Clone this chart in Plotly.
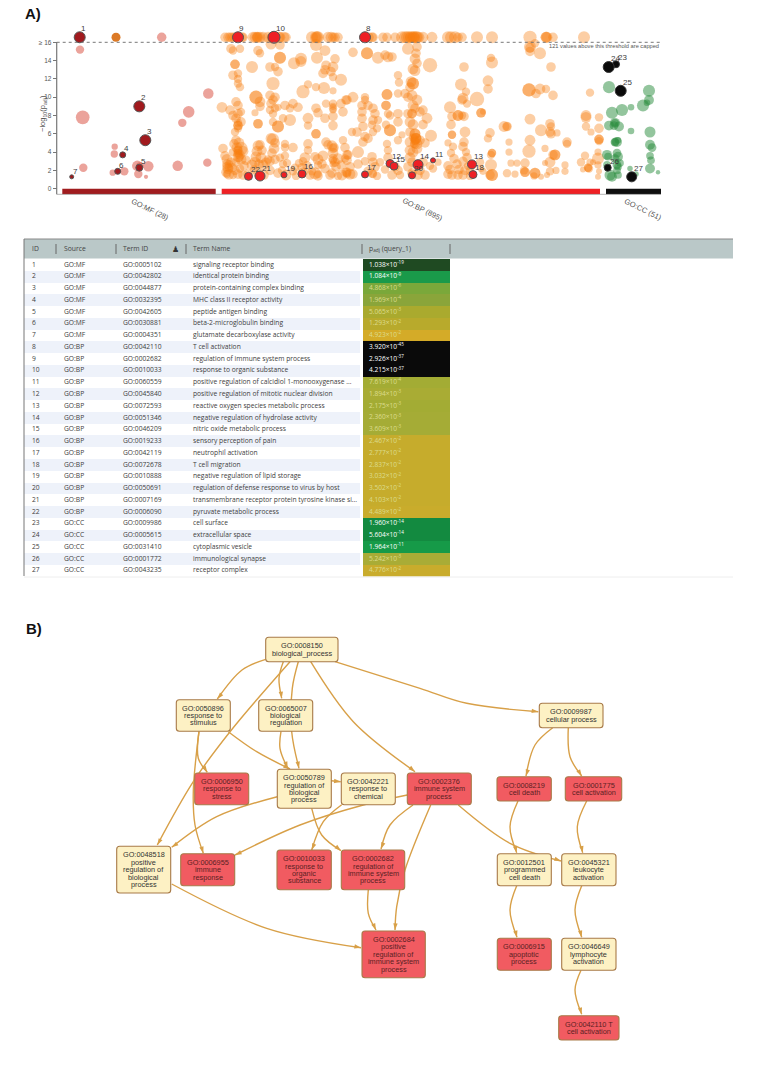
import plotly.graph_objects as go

CAP = 16.55

# ---------- Manhattan data: (term position, -log10 padj, term size class) ----------
mf_terms = [
    (161.7, CAP, 9), (80, 15.2, 8), (82.7, 7.8, 13), (208.3, 10.4, 10), (188.7, 8.4, 11),
    (182.3, 7.2, 8), (114.7, 4.6, 6), (114.3, 3.8, 7), (83.3, 2.3, 8), (112.7, 1.75, 6), (124.3, 1.9, 8),
    (137.3, 2.5, 10), (148.3, 2.45, 10), (177.7, 2.5, 10), (207.3, 2.85, 8), (138.3, 1.6, 8), (146, 1.3, 4),
    (140, 2.5, 7),
]
mf_stacked = [(116, CAP, 9)]
bp_terms = [
    # capped row
    (225, CAP, 8), (228, CAP, 8), (230, CAP, 8), (232, CAP, 8), (234, CAP, 8), (236, CAP, 8), (242, CAP, 8), (243, CAP, 8),
    (253, CAP, 9), (255, CAP, 9), (257, CAP, 9), (258, CAP, 9), (260, CAP, 9), (263, CAP, 9), (268, CAP, 9), (272, CAP, 9),
    (279, CAP, 9), (280, CAP, 9), (284, CAP, 9), (286, CAP, 8), (312, CAP, 10), (316, CAP, 10), (317, CAP, 10), (318, CAP, 10),
    (328, CAP, 9), (331, CAP, 9), (333, CAP, 8), (335, CAP, 8), (338, CAP, 8), (369, CAP, 8), (372, CAP, 8), (373, CAP, 8),
    (383, CAP, 8), (387, CAP, 8), (395, CAP, 8), (402, CAP, 10), (405, CAP, 10), (407, CAP, 10), (409, CAP, 10), (411, CAP, 10),
    (413, CAP, 10), (414, CAP, 10), (416, CAP, 10), (417, CAP, 10), (419, CAP, 9), (423, CAP, 9), (432, CAP, 9), (448, CAP, 10),
    (451, CAP, 10), (455, CAP, 10), (458, CAP, 8), (462, CAP, 8), (477, CAP, 10), (492, CAP, 10), (530, CAP, 11), (546, CAP, 9),
    (546, CAP, 9), (547, CAP, 9), (553, CAP, 8), (584, CAP, 10),
    # 11 to 16
    (231, 15.3, 8), (233, 15.1, 7), (240, 15.3, 7), (258, 15.1, 8), (260, 14.8, 7), (271, 15.8, 9), (280, 15.7, 8), (316, 15.7, 10),
    (325, 15.1, 9), (235, 13.6, 8), (235, 13.6, 8), (280, 14.3, 10), (280, 14.3, 10), (270, 13.3, 8), (252, 13.3, 10), (275, 13.3, 7),
    (278, 12.8, 8), (301, 14.2, 10), (294, 13.7, 10), (301, 13.9, 9), (317, 14.3, 10), (335, 14.2, 8), (326, 13.5, 8), (333, 13.3, 9),
    (325, 13.0, 8), (323, 12.6, 8), (331, 12.8, 8), (333, 12.2, 7), (341, 11.9, 10), (233, 12.4, 8), (238, 12.6, 7), (238, 12.0, 7),
    (238, 11.5, 7), (240, 11.1, 7), (273, 11.5, 11), (308, 11.4, 7), (316, 11.1, 7), (324, 11.0, 10), (333, 10.7, 6), (303, 10.6, 11),
    (353, 14.9, 8), (367, 14.8, 10), (367, 14.8, 10), (378, 14.3, 10), (385, 14.6, 8), (388, 14.4, 9), (392, 14.4, 8), (408, 15.3, 10),
    (417, 15.5, 8), (416, 14.8, 8), (415, 14.2, 9), (417, 13.7, 8), (413, 13.1, 9), (415, 12.9, 9), (430, 13.5, 12), (464, 13.3, 8),
    (398, 12.4, 7), (399, 11.6, 7), (411, 11.7, 9), (413, 11.5, 10), (413, 11.5, 10), (410, 11.1, 8), (461, 11.4, 10), (466, 10.6, 7),
    (463, 9.9, 9), (462, 9.7, 8), (387, 10.3, 9), (387, 10.3, 9), (398, 10.4, 7), (405, 10.4, 8), (417, 9.7, 9), (413, 9.1, 9),
    (412, 10.2, 9), (408, 10.0, 8), (491, 14.3, 7), (492, 13.8, 10), (551, 13.3, 8), (530, 15.5, 10), (530, 15.4, 8), (540, 14.8, 10),
    (535, 15.9, 7), (530, 15.0, 8),
    # 6 to 11
    (222, 8.9, 9), (230, 8.6, 8), (236, 9.5, 8), (238, 9.1, 8), (241, 8.4, 7), (233, 8.0, 8), (236, 7.7, 8), (238, 8.2, 8),
    (241, 7.3, 8), (238, 6.9, 8), (238, 6.9, 8), (235, 6.2, 7), (256, 10.0, 11), (256, 10.0, 11), (260, 9.5, 9), (260, 9.0, 8),
    (255, 8.3, 6), (258, 7.1, 8), (258, 7.1, 8), (270, 10.2, 8), (275, 10.0, 8), (271, 9.3, 8), (273, 9.7, 8), (270, 8.6, 7),
    (275, 8.8, 7), (273, 8.2, 7), (285, 9.1, 8), (278, 8.9, 6), (290, 8.8, 7), (298, 8.9, 8), (293, 9.3, 8), (278, 6.8, 10),
    (278, 6.8, 10), (273, 7.3, 7), (283, 7.7, 7), (290, 7.5, 10), (308, 7.7, 9), (316, 6.0, 8), (316, 6.0, 8), (308, 6.9, 7),
    (316, 8.8, 8), (318, 8.3, 8), (325, 7.7, 8), (333, 8.8, 7), (333, 9.3, 7), (333, 7.9, 8), (333, 6.9, 8), (341, 9.3, 8),
    (346, 9.7, 8), (343, 8.4, 8), (326, 9.3, 7), (347, 9.7, 8), (353, 10.0, 9), (365, 10.0, 7), (365, 9.7, 7), (362, 9.1, 8),
    (368, 9.1, 8), (386, 9.1, 8), (386, 9.1, 8), (450, 8.9, 10), (467, 9.3, 7), (462, 8.0, 7), (458, 8.0, 9), (458, 8.0, 9),
    (464, 7.9, 8), (452, 7.9, 8), (451, 7.0, 8), (465, 6.2, 9), (452, 5.9, 7), (452, 5.9, 7), (352, 6.2, 7), (357, 6.2, 8),
    (362, 8.4, 8), (362, 7.7, 8), (363, 6.8, 8), (373, 8.8, 8), (375, 8.2, 8), (373, 7.5, 8), (372, 7.0, 7), (378, 7.5, 7),
    (377, 6.6, 7), (373, 6.2, 7), (388, 8.2, 7), (390, 8.0, 7), (390, 6.4, 10), (390, 6.4, 10), (398, 8.2, 8), (398, 7.3, 8),
    (386, 7.0, 7), (402, 5.9, 6), (408, 8.2, 8), (412, 8.2, 8), (412, 8.2, 8), (415, 8.8, 8), (420, 8.4, 8), (410, 7.3, 9),
    (413, 7.0, 9), (415, 6.0, 9), (415, 6.0, 9), (416, 5.5, 9), (416, 5.5, 9), (416, 5.5, 9), (410, 6.2, 8), (427, 7.7, 9),
    (423, 8.6, 8), (423, 7.0, 8), (431, 5.8, 10), (477, 9.8, 12), (488, 11.8, 9), (488, 10.9, 8), (481, 8.3, 8), (481, 8.3, 8),
    (483, 8.4, 5), (529, 10.8, 11), (529, 10.8, 11), (536, 10.4, 8), (540, 10.9, 9), (546, 10.9, 7), (553, 10.2, 8), (590, 10.5, 7),
    (530, 7.6, 9), (550, 7.1, 8), (504, 6.8, 9), (507, 6.8, 8), (507, 6.8, 7), (490, 6.1, 8), (541, 6.4, 10), (550, 6.2, 8),
    (551, 6.0, 8), (557, 6.1, 6), (551, 6.8, 7), (586, 8.0, 9), (586, 7.8, 9), (599, 7.8, 7), (586, 6.8, 7), (591, 6.2, 6),
    (599, 6.6, 8),
    # 0 to 6
    (223, 4.4, 8), (225, 3.6, 8), (227, 3.2, 9), (227, 2.7, 8), (228, 2.2, 9), (229, 1.6, 9), (226, 1.8, 8), (231, 2.9, 8),
    (232, 2.3, 8), (233, 4.0, 7), (234, 4.9, 8), (236, 5.3, 8), (237, 4.5, 9), (238, 4.2, 8), (240, 3.7, 8), (241, 3.2, 9),
    (239, 5.0, 9), (241, 4.4, 11), (243, 4.1, 9), (238, 3.5, 9), (238, 1.6, 8), (236, 2.9, 7), (244, 2.5, 8), (246, 3.1, 8),
    (235, 2.0, 8), (240, 2.2, 7), (243, 1.5, 8), (233, 1.5, 7), (248, 1.6, 8), (238, 3.8, 8), (239, 3.4, 8), (227, 2.4, 8),
    (254, 2.1, 7), (256, 3.5, 9), (258, 4.7, 9), (257, 4.1, 9), (260, 4.8, 8), (262, 4.2, 8), (261, 3.4, 9), (263, 2.6, 9),
    (259, 2.7, 8), (264, 1.5, 8), (258, 1.7, 8), (252, 2.6, 9), (255, 2.9, 9), (266, 2.9, 8), (268, 3.2, 7), (271, 5.5, 9),
    (273, 5.4, 10), (275, 5.0, 8), (274, 4.4, 9), (272, 3.9, 8), (270, 3.0, 8), (270, 2.0, 8), (275, 3.2, 8), (280, 3.4, 7),
    (278, 1.7, 8), (283, 2.7, 7), (282, 2.0, 7), (286, 1.5, 9), (287, 2.8, 7), (285, 3.6, 7), (285, 4.5, 7), (285, 4.9, 7),
    (293, 1.9, 7), (295, 2.3, 7), (302, 2.3, 8), (293, 4.5, 8), (299, 2.8, 7), (303, 3.0, 7), (308, 4.9, 8), (308, 4.2, 7),
    (305, 3.4, 9), (307, 2.5, 8), (312, 1.9, 7), (303, 1.8, 8), (296, 1.4, 7), (310, 1.5, 8), (315, 1.7, 10), (318, 1.4, 8),
    (315, 3.5, 8), (318, 3.2, 9), (318, 2.6, 7), (322, 2.7, 8), (325, 2.2, 8), (328, 4.8, 8), (332, 4.7, 9), (334, 4.5, 8),
    (333, 3.9, 9), (333, 4.4, 8), (333, 3.3, 8), (335, 2.9, 8), (336, 2.4, 8), (332, 1.7, 8), (330, 1.5, 8), (338, 3.3, 9),
    (341, 2.6, 8), (345, 4.5, 8), (347, 3.7, 8), (342, 1.5, 9), (346, 1.8, 8), (350, 1.6, 9), (338, 1.4, 7), (323, 3.6, 9),
    (343, 5.3, 7), (326, 5.1, 8), (348, 3.7, 8), (345, 3.3, 7), (358, 4.0, 10), (347, 3.1, 8), (350, 2.4, 8), (347, 1.8, 8),
    (353, 1.6, 8), (358, 2.7, 8), (365, 3.0, 7), (365, 5.7, 8), (363, 5.1, 8), (368, 5.5, 8), (372, 3.5, 8), (373, 2.9, 8),
    (375, 2.4, 8), (372, 1.7, 8), (377, 1.4, 7), (368, 1.9, 8), (380, 2.9, 7), (385, 2.1, 7), (388, 3.4, 8), (387, 4.9, 7),
    (388, 4.2, 7), (398, 5.3, 7), (395, 2.4, 8), (392, 1.5, 8), (398, 2.0, 8), (400, 1.5, 7), (410, 3.4, 9), (412, 2.9, 8),
    (408, 2.4, 8), (412, 1.7, 8), (418, 1.5, 8), (420, 2.0, 8), (423, 2.9, 8), (425, 1.5, 8), (430, 2.5, 7), (433, 2.2, 7),
    (438, 2.9, 6), (417, 4.9, 9), (410, 5.1, 9), (420, 5.3, 8), (425, 5.0, 8), (410, 4.2, 9), (413, 4.0, 9), (417, 4.4, 9),
    (415, 4.9, 8), (415, 5.3, 8), (448, 2.5, 8), (450, 2.1, 8), (448, 1.6, 8), (452, 1.5, 8), (454, 3.3, 8), (457, 2.7, 8),
    (459, 2.1, 8), (458, 1.5, 8), (465, 2.0, 8), (463, 1.5, 8), (467, 3.4, 8), (470, 2.0, 7), (463, 3.0, 8), (470, 1.4, 7),
    (466, 4.0, 7), (468, 2.5, 7), (464, 5.1, 8), (448, 5.0, 6), (453, 4.6, 7), (463, 4.6, 8), (451, 3.9, 7),
    (491, 3.7, 7), (492, 3.9, 7), (492, 3.9, 7), (491, 2.6, 10), (492, 1.5, 10), (492, 1.5, 10), (490, 1.5, 8), (483, 1.9, 6),
    (481, 2.2, 6), (480, 2.9, 7), (488, 5.5, 7), (507, 1.7, 7), (515, 1.6, 6), (511, 2.8, 6), (517, 2.8, 6), (525, 2.8, 8),
    (525, 1.8, 8), (525, 1.8, 8), (524, 2.0, 7), (535, 1.7, 9), (535, 1.7, 9), (534, 1.4, 6), (541, 1.3, 5), (547, 1.5, 5),
    (550, 1.9, 7), (545, 2.8, 5), (550, 2.9, 9), (555, 3.7, 9), (555, 3.7, 9), (553, 3.7, 8), (556, 2.0, 6), (565, 2.6, 6),
    (565, 1.9, 6), (530, 5.3, 9), (509, 5.1, 6), (509, 4.0, 6), (529, 4.1, 11), (545, 4.4, 6), (567, 5.1, 8), (567, 4.9, 7),
    (581, 2.9, 7), (585, 3.6, 7), (588, 2.3, 7), (588, 2.3, 7), (589, 2.2, 7), (583, 2.1, 5), (590, 2.9, 6), (598, 3.3, 10),
    (598, 4.0, 6), (598, 2.6, 6), (599, 1.9, 5), (598, 1.3, 5), (593, 2.9, 5), (599, 5.4, 8), (599, 5.4, 8), (599, 5.2, 7),
    # darkest stacks
    (410, CAP, 8), (413, CAP, 8), (415, CAP, 8), (257, CAP, 8), (272, CAP, 8), (316, CAP, 8), (333, 9.0, 6), (333, 8.6, 6),
    (238, 7.2, 7), (238, 6.6, 7), (238, 4.2, 7), (238, 3.9, 7), (229, 2.7, 7), (229, 2.3, 7), (413, 5.6, 7), (415, 5.2, 7),
    (414, 4.9, 7), (333, 3.1, 7), (333, 2.7, 6), (227, 1.6, 7), (318, 1.6, 7), (347, 1.6, 7), (373, 1.6, 7), (412, 1.6, 7),
]
cc_terms = [
    (609, 11.1, 11), (612, 8.3, 11), (622, 8.6, 11), (631, 8.9, 6), (649, 10.7, 11), (649, 9.7, 9), (643, 9.1, 11), (647, 9.4, 6),
    (609, 6.9, 9), (615, 7.2, 9), (615, 7.2, 7), (619, 6.8, 9), (614, 6.9, 8), (631, 6.3, 6), (650, 6.2, 10), (617, 5.1, 9),
    (615, 5.1, 8), (615, 5.1, 7), (618, 5.3, 6), (650, 4.8, 9), (652, 4.5, 8), (650, 3.6, 7), (651, 3.1, 7), (650, 2.2, 9),
    (658, 1.8, 4), (607, 3.7, 9), (608, 3.5, 7), (617, 3.9, 8), (618, 3.5, 9), (607, 2.6, 7), (620, 2.8, 7), (615, 3.3, 8),
    (617, 2.6, 8), (618, 2.4, 7), (610, 1.5, 10), (612, 1.3, 9), (618, 1.5, 7), (630, 2.2, 5), (636, 1.6, 5), (617, 2.0, 7),
]
mf_hi_labels = ["1", "2", "3", "4", "5", "6", "7"]
mf_hi = [(79.7, CAP, 11), (139.3, 9.0, 11), (145.3, 5.3, 11), (122.7, 3.7, 6), (139.3, 2.3, 7), (117.7, 1.9, 6), (71.7, 1.3, 4)]
bp_hi_labels = ["8", "9", "10", "11", "12", "13", "14", "15", "16", "17", "18", "19", "20", "21", "22"]
bp_hi = [(365, CAP, 11), (238, CAP, 11), (274, CAP, 12), (433, 3.1, 5), (390, 2.75, 8), (472, 2.66, 9), (418, 2.63, 10),
         (394, 2.47, 8), (302, 1.61, 8), (365, 1.56, 7), (473, 1.55, 8), (284, 1.52, 6), (412, 1.46, 7), (260, 1.39, 10), (248.5, 1.35, 8)]
cc_hi_labels = ["23", "24", "25", "26", "27"]
cc_hi = [(616, 13.6, 7), (608.7, 13.3, 11), (620.7, 10.7, 11), (607.7, 2.3, 7), (631.7, 1.3, 10)]
y_ticks = list(range(0, 17, 2))
y_tick_labels = [str(v) for v in y_ticks[:-1]] + ["≥ 16"]
sources = [("GO:MF (28)", 62.3, 215.7, "#a01c1f", 150), ("GO:BP (895)", 221.7, 600, "#ee2024", 422.7), ("GO:CC (51)", 606, 661, "#0f0f0f", 643)]

# ---------- Table ----------
ids = list(range(1, 28))
source = ["GO:MF"] * 7 + ["GO:BP"] * 15 + ["GO:CC"] * 5
term_ids = ["GO:0005102", "GO:0042802", "GO:0044877", "GO:0032395", "GO:0042605", "GO:0030881", "GO:0004351",
            "GO:0042110", "GO:0002682", "GO:0010033", "GO:0060559", "GO:0045840", "GO:0072593", "GO:0051346",
            "GO:0046209", "GO:0019233", "GO:0042119", "GO:0072678", "GO:0010888", "GO:0050691", "GO:0007169",
            "GO:0006090", "GO:0009986", "GO:0005615", "GO:0031410", "GO:0001772", "GO:0043235"]
term_names = ["signaling receptor binding", "identical protein binding", "protein-containing complex binding",
              "MHC class II receptor activity", "peptide antigen binding", "beta-2-microglobulin binding",
              "glutamate decarboxylase activity", "T cell activation", "regulation of immune system process",
              "response to organic substance", "positive regulation of calcidiol 1-monooxygenase ...",
              "positive regulation of mitotic nuclear division", "reactive oxygen species metabolic process",
              "negative regulation of hydrolase activity", "nitric oxide metabolic process", "sensory perception of pain",
              "neutrophil activation", "T cell migration", "negative regulation of lipid storage",
              "regulation of defense response to virus by host", "transmembrane receptor protein tyrosine kinase si...",
              "pyruvate metabolic process", "cell surface", "extracellular space", "cytoplasmic vesicle",
              "immunological synapse", "receptor complex"]
padj_mantissa = ["1.038", "1.084", "4.868", "1.969", "5.065", "1.293", "4.923", "3.920", "2.926", "4.215", "7.619", "1.894",
                 "2.175", "2.360", "3.609", "2.467", "2.777", "2.837", "3.032", "3.502", "4.103", "4.489", "1.960", "5.604",
                 "1.964", "5.242", "4.776"]
padj_exponent = [-19, -9, -6, -4, -3, -2, -2, -45, -37, -37, -4, -3, -3, -3, -3, -2, -2, -2, -2, -2, -2, -2, -14, -14, -11, -3, -2]
padj_fill = ["#1f4a22", "#1a9a4a", "#7aa83a", "#8aa53a", "#aaaa2e", "#b8aa2c", "#d4ab28", "#0a0a0a", "#0a0a0a", "#0a0a0a",
             "#a3ac34", "#a9ac34", "#a3ac34", "#a5ac36", "#a5ac36", "#c6ac2c", "#c6ac2c", "#c6ac2c", "#c6ac2c", "#c6ac2c",
             "#c6ac2c", "#c9ac2c", "#138a40", "#138a40", "#169a48", "#a9ac36", "#c9ac2c"]
padj_ink = ["#ffffff" if e <= -9 else "#dcdc8c" for e in padj_exponent]
headers = ["ID", "Source", "Term ID", "Term Name", "p<sub>adj</sub> (query_1)"]
col_x = [32, 64, 123, 193, 369]
dividers = [56, 116, 186, 362, 450]

# ---------- GO graph ----------
nodes = [
    ("bp", "GO:0008150\nbiological_process", 265.7, 338, 637.3, 661.7, 0),
    ("s", "GO:0050896\nresponse to\nstimulus", 176.3, 230.3, 699.7, 731.3, 0),
    ("r", "GO:0065007\nbiological\nregulation", 258.7, 312.7, 699.7, 731.3, 0),
    ("st", "GO:0006950\nresponse to\nstress", 194.7, 248.7, 773, 804.7, 1),
    ("rb", "GO:0050789\nregulation of\nbiological\nprocess", 277.3, 331.3, 769.3, 808.3, 0),
    ("ch", "GO:0042221\nresponse to\nchemical", 341.3, 395.3, 773, 804.7, 0),
    ("im", "GO:0002376\nimmune system\nprocess", 407.3, 471.3, 773, 804.7, 1),
    ("cp", "GO:0009987\ncellular process", 539.3, 603, 703.3, 727.7, 0),
    ("cd", "GO:0008219\ncell death", 497, 551.3, 776.7, 801, 1),
    ("ca", "GO:0001775\ncell activation", 565.3, 621.7, 776.7, 801, 1),
    ("pc", "GO:0012501\nprogrammed\ncell death", 497.3, 551.3, 853.7, 885.7, 0),
    ("la", "GO:0045321\nleukocyte\nactivation", 561.7, 616, 853.7, 885.7, 0),
    ("ap", "GO:0006915\napoptotic\nprocess", 497.3, 551.3, 938.3, 970.3, 1),
    ("ly", "GO:0046649\nlymphocyte\nactivation", 561.7, 616, 938.3, 970.3, 0),
    ("tc", "GO:0042110 T\ncell activation", 558.7, 619, 1015.7, 1040, 1),
    ("pr", "GO:0048518\npositive\nregulation of\nbiological\nprocess", 116.7, 170.7, 846.3, 893, 0),
    ("ir", "GO:0006955\nimmune\nresponse", 180.7, 234.7, 853.7, 885.7, 1),
    ("os", "GO:0010033\nresponse to\norganic\nsubstance", 277, 331.3, 850, 889.7, 1),
    ("ri", "GO:0002682\nregulation of\nimmune system\nprocess", 341.3, 404.7, 850, 889.7, 1),
    ("pi", "GO:0002684\npositive\nregulation of\nimmune system\nprocess", 362, 425.3, 931, 977.7, 1),
]
edges = [
    [(265.7, 659.3), (242, 670), (217.3, 699)],
    [(290, 661.7), (230, 731.7), (193.3, 781.7), (157.3, 845)],
    [(283.3, 661.7), (279, 678.3), (281.7, 698.3)],
    [(298.3, 661.7), (292.3, 688.3), (291.7, 731.7), (299, 768.3)],
    [(310.7, 661.7), (353.3, 721.7), (415, 771.7)],
    [(335, 661.7), (420, 688.3), (466.7, 703.3), (538.3, 711.7)],
    [(199, 731.3), (198.3, 758.3), (207.3, 772.3)],
    [(199, 731.3), (193.3, 791.7), (195, 825), (203.3, 853.3)],
    [(228.3, 731.7), (256.7, 751.7), (290, 769)],
    [(281, 731.3), (280, 748.3), (287.7, 768.3)],
    [(331.3, 780.7), (340.7, 781.7)],
    [(277.3, 796.7), (216.7, 816.7), (171.7, 847.3)],
    [(311.7, 808.3), (321.7, 835), (341, 850.7)],
    [(341.7, 804.7), (323.3, 821.7), (311.7, 850)],
    [(407.3, 795), (363.3, 805), (300, 825), (235, 855)],
    [(413, 805), (390, 825), (381, 849)],
    [(430.7, 805), (405, 870), (396.7, 906.7), (395, 930)],
    [(458.3, 805), (510, 843.3), (561, 861)],
    [(368.3, 889.7), (368.3, 913.3), (376, 930)],
    [(171.7, 884), (266.7, 928.3), (361, 947.7)],
    [(552.7, 727.7), (535, 745), (526, 776)],
    [(568.3, 727.7), (570, 756.7), (581.7, 776)],
    [(518, 801), (510, 826.7), (516.7, 852.7)],
    [(586.7, 801), (577.3, 826.7), (582.7, 852.7)],
    [(516.7, 885.7), (510, 910), (517, 937.3)],
    [(581.7, 885.7), (575, 910), (581.7, 937.3)],
    [(581, 970.3), (575, 990), (581.7, 1014.3)],
]

W, H = 759, 1076
def dom(top, bottom):
    return [(H - bottom) / H, (H - top) / H]
def col(rows, i):
    return [r[i] for r in rows]
def py(p):
    return (H - p) / H

fig = go.Figure()
LABEL = "Liberation Sans"
TABLE = "Open Sans"
shapes, annos = [], []

def bubbles(rows, color, labels=None, border=None, grow=1.0):
    fig.add_trace(go.Scatter(
        x=col(rows, 0), y=col(rows, 1), xaxis="x", yaxis="y", cliponaxis=False, mode="markers",
        marker=dict(size=[s * grow for s in col(rows, 2)], color=color, opacity=1,
                    line=dict(width=1 if border else 0, color=border or color)),
        hoverinfo="skip", showlegend=False))
    for lab, (x, y, s) in zip(labels or [], rows):
        annos.append(dict(xref="x", yref="y", x=x, y=y, text=lab, showarrow=False, xanchor="center", yanchor="middle",
                          xshift=3.8 + (2.9 if len(lab) > 1 else 0), yshift=3.5 + 0.45 * s,
                          font=dict(family=LABEL, size=8, color="#3c3c3c")))

bubbles(mf_terms, "rgba(215,71,55,0.5)", grow=1.05)
bubbles(mf_stacked, "#dc7a26")
bubbles(bp_terms, "rgba(247,125,15,0.38)", grow=1.2)
bubbles(cc_terms, "rgba(40,140,60,0.5)", grow=1.1)
bubbles(mf_hi, "#a11a1e", mf_hi_labels, "#555555")
bubbles(bp_hi, "#ee2025", bp_hi_labels, "#555555")
bubbles(cc_hi, "#0a0a0a", cc_hi_labels, "#333333")

# table bars
even = [i for i in ids if i % 2 == 0]
fig.add_trace(go.Bar(y=even, x=[336] * len(even), base=[24] * len(even), orientation="h", width=1,
                     marker=dict(color="#eef2fa", line=dict(width=0)), xaxis="x3", yaxis="y3", hoverinfo="skip", showlegend=False))
fig.add_trace(go.Bar(y=ids, x=[87.3] * 27, base=[362.7] * 27, orientation="h", width=1,
                     marker=dict(color=padj_fill, line=dict(width=0)), xaxis="x3", yaxis="y3", hoverinfo="skip", showlegend=False))
cols_text = [[str(i) for i in ids], source, term_ids, term_names]
for cx, vals in zip(col_x, cols_text):
    fig.add_trace(go.Scatter(x=[cx] * 27, y=ids, text=vals, mode="text", textposition="middle right",
                             textfont=dict(family=TABLE, size=6.7, color="#404040"),
                             xaxis="x3", yaxis="y3", hoverinfo="skip", showlegend=False))
padj_text = [f"{m}×10<sup>{e}</sup>" for m, e in zip(padj_mantissa, padj_exponent)]
fig.add_trace(go.Scatter(x=[col_x[4]] * 27, y=ids, text=padj_text, mode="text", textposition="middle right",
                         textfont=dict(family=TABLE, size=6.6, color=padj_ink),
                         xaxis="x3", yaxis="y3", hoverinfo="skip", showlegend=False))
fig.add_trace(go.Scatter(x=col_x, y=[-0.35] * 5, text=headers, mode="text", textposition="middle right",
                         textfont=dict(family=TABLE, size=6.8, color="#444444"),
                         xaxis="x3", yaxis="y3", hoverinfo="skip", showlegend=False))

# graph edges
for pts in edges:
    fig.add_trace(go.Scatter(
        x=col(pts, 0), y=col(pts, 1), xaxis="x2", yaxis="y2", mode="lines+markers",
        line=dict(color="#d8a048", width=1.4, shape="spline", smoothing=1),
        marker=dict(symbol="arrow", angleref="previous", size=[0] * (len(pts) - 1) + [7], color="#d8a048", opacity=1, line=dict(width=0)),
        hoverinfo="skip", showlegend=False))

# manhattan furniture
for name, a, b, c, cx in sources:
    shapes.append(dict(type="rect", xref="x", yref="y", x0=a, x1=b, y0=-0.61, y1=0, fillcolor=c, line=dict(width=0)))
    annos.append(dict(xref="x", yref="paper", x=cx, y=py(209), yanchor="middle", text=name, showarrow=False, textangle=26,
                      font=dict(family=LABEL, size=7.5, color="#555555")))
shapes.append(dict(type="line", xref="x", yref="y", x0=56.7, x1=661, y0=16, y1=16, line=dict(color="#777777", width=1, dash="dot")))
shapes.append(dict(type="line", xref="x", yref="y", x0=56.7, x1=661, y0=-0.62, y1=-0.62, line=dict(color="#777777", width=1)))
shapes.append(dict(type="line", xref="x", yref="y", x0=56.7, x1=56.7, y0=-0.62, y1=16, line=dict(color="#777777", width=1.2)))
annos.append(dict(xref="x", yref="y", x=661, y=15.65, text="121 values above this threshold are capped", showarrow=False,
                  xanchor="right", yanchor="middle", font=dict(family=LABEL, size=5.7, color="#555555")))
annos.append(dict(xref="paper", yref="paper", x=36 / W, y=py(114), yanchor="middle", text="−log<sub>10</sub>(p<sub>adj</sub>)", showarrow=False,
                  textangle=-90, font=dict(family=LABEL, size=7.5, color="#555555")))
annos.append(dict(xref="paper", yref="paper", x=23 / W, y=py(13), text="<b>A)</b>", showarrow=False, xanchor="left", yanchor="middle",
                  font=dict(family=LABEL, size=15, color="#111111")))
annos.append(dict(xref="paper", yref="paper", x=24 / W, y=py(628), text="<b>B)</b>", showarrow=False, xanchor="left", yanchor="middle",
                  font=dict(family=LABEL, size=15, color="#111111")))
# table furniture
shapes.append(dict(type="rect", xref="x3", yref="paper", x0=24, x1=733, y0=py(258.5), y1=py(239),
                   fillcolor="#bac8c8", line=dict(width=0), layer="below"))
shapes.append(dict(type="line", xref="x3", yref="paper", x0=24, x1=733, y0=py(239), y1=py(239), line=dict(color="#888888", width=1)))
shapes.append(dict(type="line", xref="x3", yref="paper", x0=24, x1=24, y0=py(576), y1=py(239), line=dict(color="#777777", width=1)))
shapes.append(dict(type="line", xref="x3", yref="paper", x0=24, x1=733, y0=py(577), y1=py(577), line=dict(color="#eeeeee", width=1)))
for d in dividers:
    shapes.append(dict(type="line", xref="x3", yref="paper", x0=d, x1=d, y0=py(254), y1=py(244), line=dict(color="#666666", width=1)))
annos.append(dict(xref="x3", yref="paper", x=175, y=py(249), yanchor="middle", text="♟", showarrow=False, font=dict(family="DejaVu Sans", size=8, color="#333333")))

# graph nodes
R = 3
for key, label, x0, x1, y0, y1, hit in nodes:
    path = (f"M{x0 + R},{y0} L{x1 - R},{y0} Q{x1},{y0} {x1},{y0 + R} L{x1},{y1 - R} Q{x1},{y1} {x1 - R},{y1} "
            f"L{x0 + R},{y1} Q{x0},{y1} {x0},{y1 - R} L{x0},{y0 + R} Q{x0},{y0} {x0 + R},{y0} Z")
    shapes.append(dict(type="path", xref="x2", yref="y2", path=path, layer="above",
                       fillcolor="#f15b61" if hit else "#fdf1c4", line=dict(color="#a87a48", width=1.1)))
    lines = label.split("\n")
    for i, t in enumerate(lines):
        annos.append(dict(xref="x2", yref="y2", x=(x0 + x1) / 2, y=(y0 + y1) / 2 + (i - (len(lines) - 1) / 2) * 7.4, text=t,
                          yanchor="middle", showarrow=False, font=dict(family=LABEL, size=7.3, color="#5a1f24" if hit else "#333333")))

hidden = dict(visible=False, fixedrange=True)
fig.update_layout(
    width=W, height=H, autosize=False, margin=dict(l=0, r=0, t=0, b=0, pad=0, autoexpand=False),
    paper_bgcolor="white", plot_bgcolor="rgba(0,0,0,0)",
    barmode="overlay", bargap=0, showlegend=False, shapes=shapes, annotations=annos,
    xaxis=dict(domain=[0, 1], range=[0, W], anchor="y", **hidden),
    yaxis=dict(domain=dom(24, 194.4), range=[-0.62, 18], anchor="free", position=56.7 / W, fixedrange=True,
               tickmode="array", tickvals=y_ticks, ticktext=y_tick_labels, showgrid=False, zeroline=False,
               showline=False, ticks="outside", ticklen=4, tickcolor="#777777",
               tickfont=dict(family=LABEL, size=6.5, color="#555555")),
    xaxis2=dict(domain=[0, 1], range=[0, W], anchor="y2", **hidden),
    yaxis2=dict(domain=[0, 1], range=[H, 0], anchor="x2", **hidden),
    xaxis3=dict(domain=[0, 1], range=[0, W], anchor="y3", **hidden),
    yaxis3=dict(domain=dom(239, 576.6), range=[27.5, 27.5 - (576.6 - 239) / 11.76], anchor="x3", **hidden),
)
fig.write_html("out.html", post_script="document.body.style.margin='0';", config={"displayModeBar": False})
